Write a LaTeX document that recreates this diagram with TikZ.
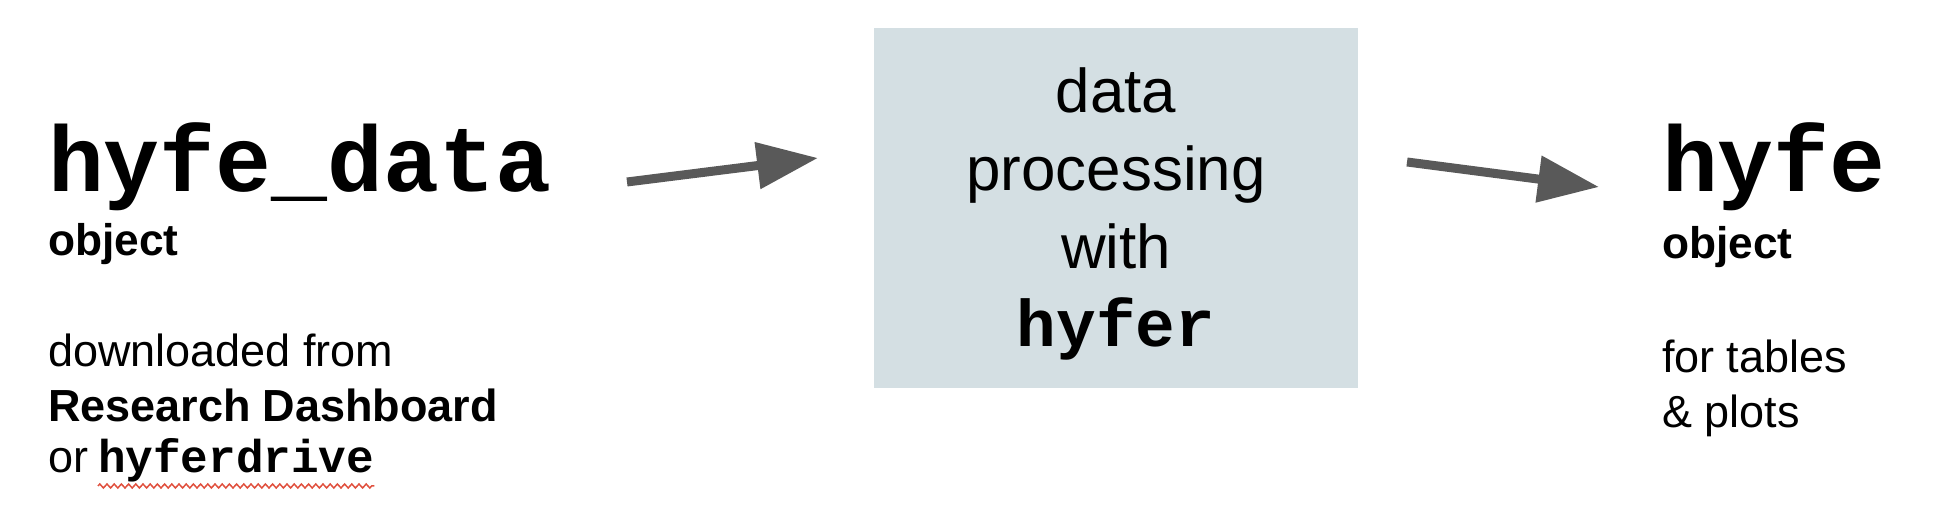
\documentclass[tikz,border=0pt]{standalone}
\usepackage{fontspec}
\setmainfont{Liberation Sans}
\setmonofont{Liberation Mono}
\usepackage{tikz}
\usepackage{xcolor}
\usetikzlibrary{arrows.meta,decorations.pathmorphing,positioning}
\definecolor{boxgrey}{RGB}{212,223,227}
\definecolor{arrowgrey}{RGB}{89,89,89}
\definecolor{spellred}{RGB}{224,80,62}

\begin{document}
\begin{tikzpicture}[x=0.1mm,y=-0.1mm,
		every node/.style={inner sep=0pt,outer sep=0pt},
		objname/.style={anchor=base west,font=\ttfamily\bfseries\fontsize{26.5}{26.5}\selectfont},
		objkind/.style={anchor=base west,font=\bfseries\fontsize{12.6}{12.6}\selectfont},
		note/.style={anchor=base west,font=\fontsize{12.8}{15}\selectfont},
		flow/.style={arrowgrey,line width=0.9mm,-{Triangle[length=6.1mm,width=4.5mm]}}]
				\useasboundingbox (0,0) rectangle (1942,532);

				% input object
				\node [objname] (src) at (48,192) {hyfe\_data};
				\node [objkind] (srcobj) at (48,256) {object};
				\node [note] (from) at (48,367) {downloaded from};
				\node [note,font=\bfseries\fontsize{12.8}{15}\selectfont] (dash) at (48,422) {Research Dashboard};
				\node [note] (or) at (48,473) {or};
				\node [note,font=\ttfamily\bfseries\fontsize{13.1}{15}\selectfont] (drive) at (98,473) {hyferdrive};
				\draw [spellred,line width=0.15mm,decorate,decoration={zigzag,segment length=0.72mm,amplitude=0.2mm}]
					([yshift=-1.3mm]drive.base west) -- ([yshift=-1.3mm]drive.base east);

				% processing
				\node [fill=boxgrey,minimum width=48.4mm,minimum height=36mm] (proc) at (1116,208) {};
				\node [align=center,font=\fontsize{17.6}{22.2}\selectfont] (proctxt) at (1116,214)
					{data\\processing\\with\\{\ttfamily\bfseries\fontsize{18.8}{22.2}\selectfont hyfer}};

				% output object
				\node [objname] (dst) at (1662,192) {hyfe};
				\node [objkind] (dstobj) at (1662,259) {object};
				\node [note] (tables) at (1662,373) {for tables};
				\node [note] (plots) at (1662,428) {\& plots};

				\coordinate (in1) at (627,182);
				\coordinate (in2) at (818,158);
				\coordinate (out1) at (1407,162);
				\coordinate (out2) at (1599,187);
				\draw [flow] (in1) -- (in2);
				\draw [flow] (out1) -- (out2);
\end{tikzpicture}
\end{document}
